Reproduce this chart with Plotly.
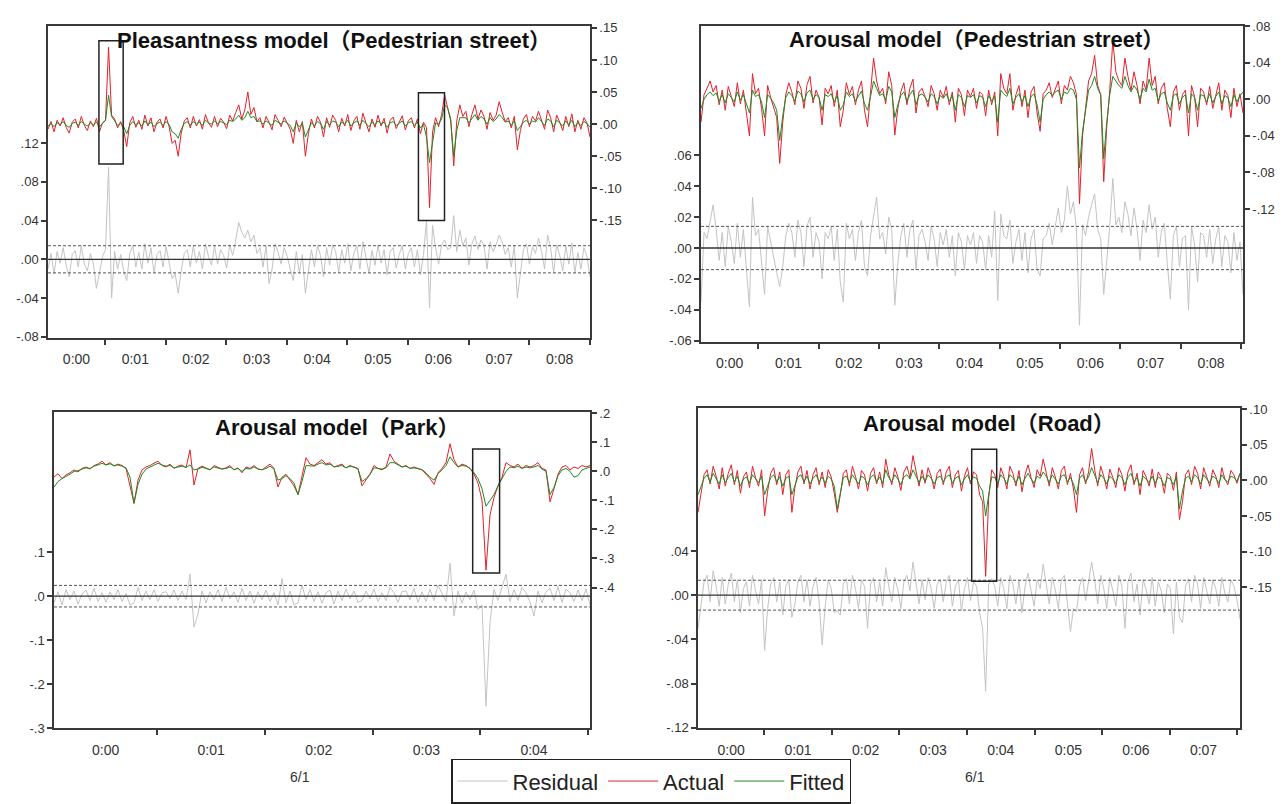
import numpy as np
import plotly.graph_objects as go

W, H = 1286, 804

# ---------------- data (values in thousandths) ----------------
# Panel 1: Pleasantness model (Pedestrian street), 0:00 - 0:09
p1_actual = [-8, 4, -12, 6, -3, 10, -5, -14, 3, 8,
             -6, 12, -2, -10, 5, -4, 9, -12, 2, 6,
             120, 14, 8, -6, 4, -10, -35, 2, 12, -5,
             6, -8, 14, -3, 10, -12, 3, 8, -6, 12,
             -4, -30, -25, -50, -14, 5, 10, -6, 12, -3,
             7, -8, 15, 2, -5, 12, -4, 9, 3, -7,
             14, 5, 18, 30, 8, 22, 50, 15, 26, 4,
             10, -6, 12, 3, -9, 15, 6, -4, 11, 2,
             -8, -30, 6, -12, 4, -50, -15, 8, -6, 12,
             3, -20, 10, -5, 14, 6, -12, 9, -3, 15,
             -10, 5, 12, -8, 17, 2, -12, 8, -5, 14,
             -3, 9, -14, 6, 11, -7, 4, 13, -9, 5,
             10, -6, 8, -15, 3, -5, -130, -12, 10, -4,
             15, 45, 25, 8, -65, 5, 30, 12, 20, -4,
             15, 30, 8, 22, 12, -8, 18, 6, 14, 35,
             18, 4, 10, -6, 12, -40, -10, 8, 15, -4,
             12, 5, 20, 6, -8, 22, 10, -12, 14, 3,
             -10, 12, -4, 16, -12, 6, -8, 10, 2, -20]
p1_fitted = [-3, 1, -4, 2, -1, 4, -2, -5, 1, 3,
             -2, 4, 0, -3, 2, -1, 3, -4, 1, 6,
             45, 12, 5, -2, 1, -4, -15, -2, 4, -1,
             2, -3, 5, -1, 3, -4, 1, 3, -2, 4,
             -1, -12, -15, -22, -8, 1, 4, -2, 4, 0,
             3, -2, 6, 2, 0, 5, 1, 4, 2, -1,
             6, 4, 8, 14, 6, 10, 20, 10, 12, 4,
             5, 0, 5, 2, -2, 6, 3, 0, 5, 1,
             -2, -12, 2, -4, 1, -20, -8, 2, -2, 4,
             1, -8, 4, -1, 5, 3, -4, 3, 0, 6,
             -3, 2, 5, -2, 6, 1, -4, 3, -1, 5,
             0, 3, -5, 2, 4, -2, 2, 5, -3, 2,
             4, -2, 3, -6, 0, -20, -60, -25, 2, 0,
             8, 30, 25, 5, -50, -10, 10, 10, 10, 2,
             8, 15, 6, 12, 8, 0, 10, 4, 8, 15,
             10, 3, 5, -2, 5, -10, -4, 3, 6, 0,
             5, 3, 10, 4, -2, 8, 5, -4, 6, 2,
             -3, 5, -1, 6, -4, 2, -2, 4, 1, -5]
p1_resid = [-10, 6, -15, 8, -4, 12, -6, -18, 5, 9,
            -8, 14, -5, -12, 6, -5, -30, -14, 3, 10,
            95, -40, 8, -10, 5, -12, -22, 6, 14, -8,
            7, -10, 16, -4, 12, -14, 5, 9, -8, 13,
            -5, -20, -15, -35, -12, 6, 10, -8, 14, -4,
            8, -10, 16, 3, -6, 14, -5, 10, 4, -9,
            15, 4, 20, 38, 28, 22, 30, 18, 25, 6,
            12, -8, 14, -25, -10, 16, 7, -5, 12, 3,
            -10, -22, 8, -14, 5, -35, -12, 10, -8, 14,
            4, -18, 12, -6, 15, 8, -14, 10, -4, 16,
            -12, 6, 14, -10, 18, 3, -14, 9, -6, 15,
            -4, 10, -16, 8, 12, -9, 5, 14, -10, 6,
            12, -8, 10, -16, 4, 40, -50, 35, 12, -5,
            15, 20, 10, 12, 45, 8, 30, 14, 22, -6,
            16, 24, 10, 20, 14, -10, 18, 8, 15, 25,
            18, 5, 12, -8, 14, -40, -12, 10, 16, -5,
            13, 6, 22, 8, -10, 25, 12, -14, 15, 4,
            -12, 14, -5, 17, -14, 7, -10, 12, 3, -18]

# Panel 2: Arousal model (Pedestrian street), 0:00 - 0:09
p2_actual = [-25, 5, 12, 20, 8, 15, -6, 10, -12, 14,
             3, -8, 18, -5, 10, -14, -40, 28, 6, 12,
             -10, -40, 15, 2, -8, -20, -70, -25, 5, 18,
             8, -6, 20, 12, -10, 16, 25, -4, 10, 2,
             -28, 12, 6, 15, -8, 10, -30, -12, 18, 5,
             14, -6, 10, 20, -12, -30, 8, 45, 20, 6,
             12, -5, 30, 15, -39, -10, 8, 18, -6, 12,
             22, -15, 8, 12, 3, -8, 15, 6, -12, 10,
             2, 14, -6, 8, -25, 12, 5, -18, 10, 3,
             12, -10, 8, 5, -18, 10, -6, 8, -40, 28,
             12, 6, 28, -12, 5, 15, -8, 10, -20, 8,
             14, -15, -35, 6, 10, 18, 2, 12, 20, -5,
             15, 10, 25, 18, 5, -114, -40, -10, 20, 28,
             48, 15, 5, -90, -30, 10, 64, 30, 20, 15,
             45, 25, 10, 30, 15, -5, 20, 10, 45, 15,
             25, -5, 12, 18, -10, -30, 8, 15, -12, 5,
             10, -40, 15, 3, -30, 12, 8, -6, 14, -10,
             6, 18, -12, 10, 4, -20, 12, -8, 6, -15]
p2_fitted = [-10, 0, 5, 8, 4, 7, -2, 5, -4, 6,
             2, -3, 8, -1, 5, -5, -15, 10, 3, 5,
             -3, -20, 5, 1, -4, -12, -45, -18, 2, 8,
             4, -2, 9, 6, -3, 7, 10, 0, 5, 2,
             -12, 5, 3, 6, -3, 4, -12, -6, 8, 3,
             6, -2, 4, 9, -5, -12, 3, 20, 12, 4,
             6, -1, 14, 8, -20, -6, 4, 8, -2, 5,
             10, -6, 4, 6, 2, -3, 6, 3, -5, 4,
             1, 6, -2, 4, -12, 5, 2, -8, 4, 2,
             5, -4, 4, 2, -8, 4, -2, 3, -25, 10,
             6, 3, 12, -5, 2, 6, -3, 4, -8, 3,
             6, -6, -25, 0, 5, 8, 4, 8, 10, 0,
             8, 6, 12, 10, 0, -75, -35, -10, 10, 15,
             25, 12, 5, -65, -25, 5, 25, 20, 15, 12,
             25, 15, 8, 15, 10, 0, 12, 8, 22, 10,
             12, -2, 6, 8, -4, -12, 4, 6, -5, 2,
             5, -15, 6, 2, -12, 5, 4, -3, 6, -4,
             3, 8, -5, 4, 2, -8, 5, -3, 4, 8]
p2_resid = [-35, 10, 6, 18, 28, 12, -8, 10, -12, 14,
            4, -10, 16, -6, 12, -14, -38, 33, 8, 12,
            -10, -30, 14, 4, -8, -16, -25, -12, 8, 16,
            10, -6, 18, 10, -12, 14, 20, -6, 10, 4,
            -20, 10, 6, 14, -8, 12, -22, -35, 16, 6,
            12, -8, 10, 18, -12, -18, 8, 22, 33, 6,
            10, -4, 20, 12, -37, -10, 8, 16, -6, 12,
            18, -14, 8, 12, 4, -8, 14, 6, -12, 10,
            2, 12, -6, 8, -18, 10, 4, -14, 8, 2,
            10, -10, 8, 4, -14, 8, -6, 24, -34, 22,
            8, 6, 18, -10, 4, 12, -8, 10, -16, 6,
            12, -14, -18, 6, 8, 16, 2, 14, 26, 10,
            18, 40, 22, 30, 12, -50, 15, 8, 20, 28,
            35, 12, 6, -30, -8, 14, 45, 15, 20, 10,
            30, 22, 8, 26, 12, -8, 18, 10, 28, 12,
            20, -6, 10, 16, -10, -33, 8, 14, -12, 6,
            8, -40, 14, 2, -22, 10, 8, -6, 12, -10,
            6, 14, -12, 8, 4, -16, 10, -8, 4, -30]

# Panel 3: Arousal model (Park), 0:00 - 0:05
p3_actual = [-20, -8, -25, -12, -5, 5, -2, 10, 15, 8,
             20, 25, 35, 22, 30, 18, 25, 20, 10, -45,
             -110, -30, 5, 15, 20, 28, 35, 20, 15, 25,
             10, 18, 22, 12, 74, -47, 10, 18, 12, 5,
             20, 15, 8, 12, 20, 5, 12, -5, 15, 10,
             20, 8, 5, 15, 25, 10, -54, -20, -10, -30,
             -50, -80, -20, 47, 25, 20, 30, 40, 25, 30,
             15, 20, 25, 12, 20, 15, 10, -50, -30, -10,
             20, 10, 5, 15, 60, 35, 25, 15, 20, 10,
             15, 10, 5, -10, -25, -45, -5, 10, 30, 95,
             40, 15, 25, 20, 10, -10, -40, -100, -340, -150,
             -90, -50, -20, 30, 20, 15, 25, 10, 20, 15,
             20, 30, 10, 5, -105, -60, -10, 15, 20, 5,
             15, 10, 20, 15, 20]
p3_fitted = [-55, -35, -25, -18, -10, 0, 2, 8, 12, 10,
             18, 22, 28, 22, 26, 20, 22, 18, 12, -20,
             -110, -45, -10, 8, 15, 22, 28, 22, 18, 20,
             12, 15, 18, 14, 22, 5, 8, 14, 10, 6,
             15, 12, 8, 10, 15, 6, 10, 0, 10, 8,
             15, 8, 6, 10, 18, 8, -30, -25, -15, -25,
             -40, -80, -35, 20, 20, 18, 25, 30, 22, 25,
             15, 18, 20, 12, 18, 14, 8, -35, -25, -10,
             12, 10, 8, 12, 30, 30, 22, 15, 18, 10,
             12, 10, 6, -5, -20, -30, -8, 5, 20, 50,
             30, 15, 20, 18, 10, -5, -25, -60, -120, -100,
             -80, -50, -25, 0, 15, 12, 18, 10, 15, 12,
             15, 20, 8, 0, -80, -55, -15, 5, 10, 0,
             -20, -15, 5, 10, 15]
p3_resid = [-15, 10, -20, 15, -8, 12, -18, 5, 14, -10,
            18, -12, 8, -14, 10, -8, 15, -12, 6, -20,
            -15, 20, -10, 12, -8, 15, -12, 8, 10, -6,
            14, -10, 12, -8, 50, -70, -40, 12, -15, 10,
            -8, 15, -12, 20, -6, 10, -14, 18, -10, 12,
            -16, 10, -8, 14, -12, 8, -20, 40, -15, 12,
            -20, -15, 25, -8, 15, -12, 10, -16, 8, 14,
            -18, 12, -10, 16, -6, 12, -14, -10, 12, -6,
            16, -12, 8, -10, 20, 8, -14, 10, 12, -8,
            18, -14, 10, -12, 16, -10, 25, 8, -12, 75,
            -45, 12, -16, 10, -8, 14, -30, -20, -250, -60,
            15, -10, 20, 50, -12, 15, -10, 20, 8, -14,
            -45, 12, -15, 10, 18, -10, 22, -14, 16, 8,
            -12, 14, -10, 16, -20]

# Panel 4: Arousal model (Road), 0:00 - 0:08
p4_actual = [-45, -15, 8, 15, -5, 20, 6, -12, 18, -8,
             10, 22, -6, 14, -18, 5, 12, -10, 20, 4,
             -8, 15, -50, -15, 10, 18, -6, 12, -20, 8,
             15, -45, -10, 12, 20, -5, 14, -12, 8, 18,
             -6, 12, -10, 15, 5, -18, -45, -20, 10, 15,
             -8, 20, 6, -12, 14, 8, -15, 10, 18, -5,
             12, -10, 30, 8, -6, 18, 5, -14, 12, 20,
             4, 35, 12, -8, 15, -4, 18, 6, -12, 10,
             16, -6, 12, 20, -10, 8, 14, -15, 6, 18,
             -5, 12, 8, -20, -30, -135, -25, 15, 8, -10,
             18, 6, -12, 20, 10, -8, 14, -16, 8, 22,
             4, -10, 15, 6, 30, 12, -8, 18, 5, -12,
             14, 20, -6, 10, -12, -45, 8, 18, -5, 12,
             45, 15, -8, 20, 6, -12, 16, 4, -10, 18,
             8, -15, 12, 22, -6, 10, -20, 14, 5, -8,
             16, -10, 12, 4, -18, 10, 6, -14, 12, -55,
             -30, 8, 15, -6, 20, 10, -12, 18, 4, -8,
             15, 6, -10, 18, 2, -6, 14, 8, -4, 10]
p4_fitted = [-20, -8, 3, 8, -2, 10, 3, -5, 8, -3,
             4, 10, -2, 6, -8, 2, 5, -4, 8, 2,
             -3, 6, -20, -8, 4, 8, -2, 5, -8, 3,
             6, -20, -6, 5, 8, -2, 6, -5, 3, 8,
             -2, 5, -4, 6, 2, -8, -40, -15, 4, 6,
             -3, 8, 2, -5, 6, 3, -6, 4, 8, -2,
             5, -4, 15, 4, -2, 8, 2, -6, 5, 8,
             2, 15, 6, -3, 6, -1, 8, 3, -5, 4,
             6, -2, 5, 8, -4, 3, 6, -6, 2, 8,
             -2, 5, 3, -8, -15, -50, -20, 5, 4, -4,
             8, 3, -5, 8, 4, -3, 6, -6, 3, 10,
             2, -4, 6, 3, 12, 6, -3, 8, 2, -5,
             6, 8, -2, 4, -5, -20, 3, 8, -2, 5,
             18, 8, -3, 8, 3, -5, 6, 2, -4, 8,
             4, -6, 5, 10, -2, 4, -8, 6, 2, -3,
             6, -4, 5, 2, -8, 4, 2, -6, 5, -40,
             -15, 3, 6, -2, 8, 4, -5, 8, 2, -3,
             6, 3, -4, 8, 1, -2, 6, 4, -1, 10]
p4_resid = [-30, -8, 12, 18, -6, 22, 8, -10, 16, -8,
            10, 20, -6, 14, -16, 6, 12, -10, 18, 4,
            -8, 14, -50, -12, 10, 16, -6, 12, -18, 8,
            14, -20, -8, 12, 18, -6, 14, -10, 8, 16,
            -6, -45, -10, 14, 6, -16, -14, -18, 10, 15,
            -8, 18, 6, -12, 14, 8, -30, 10, 16, -6,
            12, -10, 25, 8, -6, 16, 5, -12, 12, 18,
            4, 30, 12, -8, 14, -4, 16, 6, -12, 10,
            14, -6, 12, 18, -10, 8, 14, -14, 6, 16,
            -5, 12, 8, -16, -30, -87, 10, 15, 8, -10,
            16, 6, -12, 18, 10, -8, 14, -16, 8, 20,
            4, -10, 14, 6, 28, 12, -8, 16, 5, -12,
            14, 18, -6, -33, -12, -15, 8, 16, -5, 12,
            30, 14, -8, 18, 6, -12, 16, 4, -10, 18,
            8, -30, 12, 20, -6, 10, -18, 14, 5, -8,
            16, -10, 12, 4, -16, 10, 6, -35, 12, -20,
            -25, 8, 15, -6, 18, 10, -12, 16, 4, -8,
            14, 6, -10, 16, 2, -6, 14, 8, -4, -22]

# residual +/- 1 S.E. bands (thousandths)
resid_se = [14, 14, 24.5, 13.5]

# time span of each sample, in minutes after 0:00 on 6/1
time_span = [(0.06, 9.00), (0.05, 9.03), (0.04, 5.02), (0.02, 8.04)]

minute_labels = ["0:00", "0:01", "0:02", "0:03", "0:04", "0:05", "0:06", "0:07", "0:08"]

titles = ["Pleasantness model（Pedestrian street）",
          "Arousal model（Pedestrian street）",
          "Arousal model（Park）",
          "Arousal model（Road）"]

# left (residual) axis ticks
left_ticks = [([0.12, 0.08, 0.04, 0.0, -0.04, -0.08], [".12", ".08", ".04", ".00", "-.04", "-.08"]),
              ([0.06, 0.04, 0.02, 0.0, -0.02, -0.04, -0.06], [".06", ".04", ".02", ".00", "-.02", "-.04", "-.06"]),
              ([0.1, 0.0, -0.1, -0.2, -0.3], [".1", ".0", "-.1", "-.2", "-.3"]),
              ([0.04, 0.0, -0.04, -0.08, -0.12], [".04", ".00", "-.04", "-.08", "-.12"])]
# right (actual / fitted) axis ticks
right_ticks = [([0.15, 0.10, 0.05, 0.0, -0.05, -0.10, -0.15], [".15", ".10", ".05", ".00", "-.05", "-.10", "-.15"]),
               ([0.08, 0.04, 0.0, -0.04, -0.08, -0.12], [".08", ".04", ".00", "-.04", "-.08", "-.12"]),
               ([0.2, 0.1, 0.0, -0.1, -0.2, -0.3, -0.4], [".2", ".1", ".0", "-.1", "-.2", "-.3", "-.4"]),
               ([0.10, 0.05, 0.0, -0.05, -0.10, -0.15], [".10", ".05", ".00", "-.05", "-.10", "-.15"])]

# highlighted windows: (start minute, end minute, low, high) on actual/fitted axis
highlights = [[(0.90, 1.30, -0.062, 0.130), (6.17, 6.60, -0.150, 0.049)],
              [],
              [(3.93, 4.18, -0.350, 0.077)],
              [(4.07, 4.44, -0.142, 0.044)]]

series = [(p1_resid, p1_actual, p1_fitted),
          (p2_resid, p2_actual, p2_fitted),
          (p3_resid, p3_actual, p3_fitted),
          (p4_resid, p4_actual, p4_fitted)]

# ---------------- layout geometry (pixels) ----------------
plot_px = [(48, 590, 19, 338), (701, 1243, 19, 342), (54, 590, 414, 737), (698, 1240, 410, 737)]
left_range = [(-0.081, 0.241), (-0.0607, 0.144), (-0.3005, 0.418), (-0.1205, 0.169)]
right_range = [(-0.333, 0.1535), (-0.265, 0.0805), (-0.885, 0.2035), (-0.349, 0.1015)]
title_pos = [(334, 34), (976, 33), (337, 430), (989, 425)]

COL_RES = "#c3c3c3"
COL_ACT = "#e3202a"
COL_FIT = "#1f8a24"
AXC = "#3a3a3a"
FONT = "Liberation Sans, Arial, Noto Sans CJK SC"

fig = go.Figure()
shapes = []
annotations = []
layout = {}

for k in range(4):
    resid, actual, fitted = series[k]
    t0, t1 = time_span[k]
    xa = "x" if k == 0 else f"x{k+1}"
    yl = "y" if k == 0 else f"y{2*k+1}"
    yr = f"y{2*k+2}"
    show = (k == 0)
    for vals, name, col, yax, rank in ((resid, "Residual", COL_RES, yl, 1),
                                       (actual, "Actual", COL_ACT, yr, 2),
                                       (fitted, "Fitted", COL_FIT, yr, 3)):
        t = np.linspace(t0, t1, len(vals))
        fig.add_trace(go.Scatter(x=t, y=np.array(vals) / 1000, mode="lines", name=name,
                                 line=dict(color=col, width=1), xaxis=xa, yaxis=yax,
                                 showlegend=show, legendrank=rank))

    x0p, x1p, y0p, y1p = plot_px[k]
    xdom = [x0p / W, x1p / W]
    ydom = [1 - y1p / H, 1 - y0p / H]
    nmin = int(round(t1))
    label_pos = [(max(m, t0) + min(m + 1, t1)) / 2 for m in range(nmin)]
    xkey = "xaxis" if k == 0 else f"xaxis{k+1}"
    ylkey = "yaxis" if k == 0 else f"yaxis{2*k+1}"
    yrkey = f"yaxis{2*k+2}"
    layout[xkey] = dict(domain=xdom, range=[t0, t1], anchor=yl, showgrid=False, zeroline=False,
                        showline=True, linecolor=AXC, linewidth=1.5, mirror=True,
                        tickmode="array", tickvals=label_pos, ticktext=minute_labels[:nmin],
                        ticks="", ticklabelstandoff=8, tickangle=0,
                        tickfont=dict(family=FONT, size=14, color="#333"),
                        minor=dict(tickmode="array", tickvals=list(range(1, nmin + 1)),
                                   ticks="outside", ticklen=5, tickwidth=1.5, tickcolor=AXC,
                                   showgrid=False))
    lv, lt = left_ticks[k]
    layout[ylkey] = dict(domain=ydom, range=list(left_range[k]), anchor=xa, side="left",
                         showgrid=False, zeroline=False, showline=True, linecolor=AXC, linewidth=1.5,
                         tickmode="array", tickvals=lv, ticktext=lt, ticks="outside", ticklen=5,
                         tickwidth=1.5, tickcolor=AXC,
                         tickfont=dict(family=FONT, size=13, color="#333"))
    rv, rt = right_ticks[k]
    layout[yrkey] = dict(range=list(right_range[k]), anchor=xa, overlaying=yl, side="right",
                         showgrid=False, zeroline=False, showline=True, linecolor=AXC, linewidth=1.5,
                         tickmode="array", tickvals=rv, ticktext=rt, ticks="outside", ticklen=5,
                         tickwidth=1.5, tickcolor=AXC,
                         tickfont=dict(family=FONT, size=13, color="#333"))
    # residual zero line and +/- S.E. band
    shapes.append(dict(type="line", xref=f"{xa} domain", yref=yl, x0=0, x1=1, y0=0, y1=0,
                       line=dict(color="#333", width=1.3), layer="above"))
    for s in (resid_se[k], -resid_se[k]):
        shapes.append(dict(type="line", xref=f"{xa} domain", yref=yl, x0=0, x1=1,
                           y0=s / 1000, y1=s / 1000,
                           line=dict(color="#555", width=1, dash="3px,2px"), layer="above"))
    for (a, b, lo, hi) in highlights[k]:
        shapes.append(dict(type="rect", xref=xa, yref=yr, x0=a, x1=b, y0=lo, y1=hi,
                           line=dict(color="#222", width=1.5), fillcolor="rgba(0,0,0,0)",
                           layer="above"))
    tx, ty = title_pos[k]
    annotations.append(dict(text=f"<b>{titles[k]}</b>", xref="paper", yref="paper",
                            x=tx / W, y=1 - ty / H, xanchor="center", yanchor="middle",
                            showarrow=False, font=dict(family=FONT, size=22, color="#111")))

for (px, py) in [(300, 787), (975, 787)]:
    annotations.append(dict(text="6/1", xref="paper", yref="paper", x=px / W, y=1 - py / H,
                            xanchor="center", yanchor="middle", showarrow=False,
                            font=dict(family=FONT, size=14, color="#333")))

fig.update_layout(**layout)
fig.update_layout(
    width=W, height=H, autosize=False,
    margin=dict(l=0, r=0, t=0, b=0),
    paper_bgcolor="white", plot_bgcolor="white",
    shapes=shapes, annotations=annotations,
    legend=dict(orientation="h", x=451 / W, y=1 - 768 / H, xanchor="left", yanchor="top",
                bordercolor="#222", borderwidth=1.5, bgcolor="white",
                font=dict(family=FONT, size=22, color="#222"),
                itemwidth=50, traceorder="normal"),
)

fig.write_html("out.html", config={"displayModeBar": False},
               post_script="document.body.style.margin='0';")
